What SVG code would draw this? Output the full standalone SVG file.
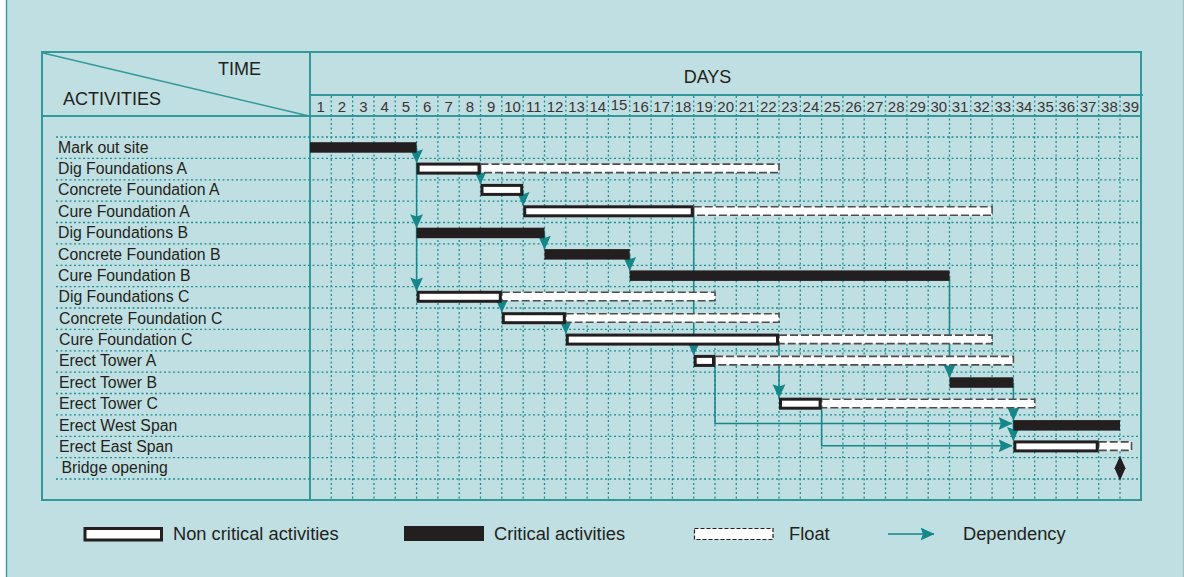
<svg xmlns="http://www.w3.org/2000/svg" width="1184" height="577" viewBox="0 0 1184 577">
  <defs>
    <style>
      .frame { fill: none; stroke: #34979a; stroke-width: 2; }
      .rule { stroke: #34979a; stroke-width: 2; fill: none; }
      .dot { stroke: #1e8e90; stroke-width: 1.3; stroke-dasharray: 2 2.5; fill: none; }
      .lbl { font-family: "Liberation Sans", Arial, sans-serif; font-size: 15.8px; fill: #231f20; }
      .head { font-family: "Liberation Sans", Arial, sans-serif; font-size: 18px; fill: #231f20; }
      .num { font-family: "Liberation Sans", Arial, sans-serif; font-size: 15px; fill: #3a3535; text-anchor: middle; }
      .leg { font-family: "Liberation Sans", Arial, sans-serif; font-size: 18.3px; fill: #231f20; }
      .crit { fill: #231f20; }
      .nonc { fill: #ffffff; stroke: #231f20; stroke-width: 3; }
      .float { fill: #ffffff; stroke: #4d4d4d; stroke-width: 1.6; stroke-dasharray: 8 3; }
      .dep { fill: none; stroke: #15878a; stroke-width: 1.5; marker-end: url(#arrow); }
    </style>
    <marker id="arrow" viewBox="0 0 12 12" refX="11.5" refY="6" markerWidth="14" markerHeight="14" markerUnits="userSpaceOnUse" orient="auto">
      <path d="M0,0.5 L12,6 L0,11.5 L2,6 z" fill="#15878a"/>
    </marker>
  </defs>

  <!-- page background -->
  <rect x="0" y="0" width="1184" height="577" fill="#ffffff"/>
  <rect x="6" y="0" width="1178" height="577" fill="#c0dfe2"/>
  <line x1="6.5" y1="0" x2="6.5" y2="577" stroke="#2f9a9c" stroke-width="1.4"/>
  <line x1="1183.3" y1="0" x2="1183.3" y2="577" stroke="#9dbfc2" stroke-width="1"/>

  <!-- table frame and header -->
  <g id="table">
    <rect class="frame" x="42" y="52" width="1099" height="448"/>
    <line class="rule" x1="42" y1="116" x2="1141" y2="116"/>
    <line class="rule" x1="310" y1="52" x2="310" y2="500"/>
    <line class="rule" x1="310" y1="95" x2="1143" y2="95"/>
    <line x1="43" y1="53" x2="309" y2="116" stroke="#34979a" stroke-width="1.5"/>
    <text class="head" x="218" y="75">TIME</text>
    <text class="head" x="63" y="105">ACTIVITIES</text>
    <text class="head" x="707.5" y="82.5" text-anchor="middle">DAYS</text>
  </g>

  <!-- dotted grid -->
  <g id="grid">
    <path class="dot" d="M56,137H1141M56,158.4H1141M56,179.8H1141M56,201.1H1141M56,222.5H1141M56,243.9H1141M56,265.3H1141M56,286.6H1141M56,308H1141M56,329.4H1141M56,350.8H1141M56,372.1H1141M56,393.5H1141M56,414.9H1141M56,436.3H1141M56,457.6H1141M56,479H1141"/>
    <path class="dot" d="M331.3,96V500M352.6,96V500M374,96V500M395.3,96V500M416.6,96V500M437.9,96V500M459.2,96V500M480.5,96V500M501.8,96V500M523.2,96V500M544.5,96V500M565.8,96V500M587.1,96V500M608.4,96V500M629.7,96V500M651.1,96V500M672.4,96V500M693.7,96V500M715,96V500M736.3,96V500M757.6,96V500M779,96V500M800.3,96V500M821.6,96V500M842.9,96V500M864.2,96V500M885.5,96V500M906.9,96V500M928.2,96V500M949.5,96V500M970.8,96V500M992.1,96V500M1013.4,96V500M1034.7,96V500M1056.1,96V500M1077.4,96V500M1098.7,96V500M1120,96V500"/>
  </g>

  <!-- day numbers -->
  <g id="days">
    <text class="num" x="320.7" y="111.5">1</text>
    <text class="num" x="342" y="111.5">2</text>
    <text class="num" x="363.3" y="111.5">3</text>
    <text class="num" x="384.6" y="111.5">4</text>
    <text class="num" x="405.9" y="111.5">5</text>
    <text class="num" x="427.2" y="111.5">6</text>
    <text class="num" x="448.6" y="111.5">7</text>
    <text class="num" x="469.9" y="111.5">8</text>
    <text class="num" x="491.2" y="111.5">9</text>
    <text class="num" x="512.5" y="111.5">10</text>
    <text class="num" x="533.8" y="111.5">11</text>
    <text class="num" x="555.1" y="111.5">12</text>
    <text class="num" x="576.5" y="111.5">13</text>
    <text class="num" x="597.8" y="111.5">14</text>
    <text class="num" x="619.1" y="110">15</text>
    <text class="num" x="640.4" y="111.5">16</text>
    <text class="num" x="661.7" y="111.5">17</text>
    <text class="num" x="683" y="111.5">18</text>
    <text class="num" x="704.4" y="111.5">19</text>
    <text class="num" x="725.7" y="111.5">20</text>
    <text class="num" x="747" y="111.5">21</text>
    <text class="num" x="768.3" y="111.5">22</text>
    <text class="num" x="789.6" y="111.5">23</text>
    <text class="num" x="810.9" y="111.5">24</text>
    <text class="num" x="832.2" y="111.5">25</text>
    <text class="num" x="853.6" y="111.5">26</text>
    <text class="num" x="874.9" y="111.5">27</text>
    <text class="num" x="896.2" y="111.5">28</text>
    <text class="num" x="917.5" y="111.5">29</text>
    <text class="num" x="938.8" y="111.5">30</text>
    <text class="num" x="960.1" y="111.5">31</text>
    <text class="num" x="981.5" y="111.5">32</text>
    <text class="num" x="1002.8" y="111.5">33</text>
    <text class="num" x="1024.1" y="111.5">34</text>
    <text class="num" x="1045.4" y="111.5">35</text>
    <text class="num" x="1066.7" y="111.5">36</text>
    <text class="num" x="1088" y="111.5">37</text>
    <text class="num" x="1109.4" y="111.5">38</text>
    <text class="num" x="1130.7" y="111.5">39</text>
  </g>

  <!-- dependency connectors (drawn beneath the bars) -->
  <g id="connectors">
    <path class="dep" d="M416.6,148V162.6"/>
    <path class="dep" d="M416.6,162.6V227.7"/>
    <path class="dep" d="M416.6,227.7V290.8"/>
    <path class="dep" d="M480.5,169V183.9"/>
    <path class="dep" d="M523.2,190.4V205.3"/>
    <path class="dep" d="M693.7,212V354.9"/>
    <path class="dep" d="M544.5,233.2V249.1"/>
    <path class="dep" d="M629.7,254.6V270.4"/>
    <path class="dep" d="M949.5,276V377.3"/>
    <path class="dep" d="M501.8,297.3V312.2"/>
    <path class="dep" d="M565.8,318.7V333.6"/>
    <path class="dep" d="M779,340V397.7"/>
    <path class="dep" d="M715,361.4V423.5H1012"/>
    <path class="dep" d="M821.6,404.2V445.7H1012"/>
    <path class="dep" d="M1013.4,382.8V420.1"/>
    <path class="dep" d="M1013.4,420.1V440.4"/>
  </g>

  <!-- activities -->
  <g id="mark-out-site">
    <text class="lbl" x="58" y="152.7">Mark out site</text>
    <rect class="crit" x="310" y="142.2" width="106.6" height="10.5"/>
  </g>
  <g id="dig-foundations-a">
    <text class="lbl" x="58" y="174.1">Dig Foundations A</text>
    <rect class="float" x="480.5" y="164.1" width="298.5" height="8.5"/>
    <rect class="nonc" x="418.1" y="164.1" width="60.9" height="9"/>
  </g>
  <g id="concrete-foundation-a">
    <text class="lbl" x="58" y="195.4">Concrete Foundation A</text>
    <rect class="nonc" x="482" y="185.4" width="39.7" height="9"/>
  </g>
  <g id="cure-foundation-a">
    <text class="lbl" x="58" y="216.8">Cure Foundation A</text>
    <rect class="float" x="693.7" y="206.8" width="298.4" height="8.5"/>
    <rect class="nonc" x="524.7" y="206.8" width="167.5" height="9"/>
  </g>
  <g id="dig-foundations-b">
    <text class="lbl" x="58" y="238.2">Dig Foundations B</text>
    <rect class="crit" x="416.6" y="227.7" width="127.9" height="10.5"/>
  </g>
  <g id="concrete-foundation-b">
    <text class="lbl" x="58" y="259.6">Concrete Foundation B</text>
    <rect class="crit" x="544.5" y="249.1" width="85.2" height="10.5"/>
  </g>
  <g id="cure-foundation-b">
    <text class="lbl" x="58" y="280.9">Cure Foundation B</text>
    <rect class="crit" x="629.7" y="270.4" width="319.8" height="10.5"/>
  </g>
  <g id="dig-foundations-c">
    <text class="lbl" x="58.5" y="302.3">Dig Foundations C</text>
    <rect class="float" x="501.8" y="292.3" width="213.2" height="8.5"/>
    <rect class="nonc" x="418.1" y="292.3" width="82.2" height="9"/>
  </g>
  <g id="concrete-foundation-c">
    <text class="lbl" x="59" y="323.7">Concrete Foundation C</text>
    <rect class="float" x="565.8" y="313.7" width="213.2" height="8.5"/>
    <rect class="nonc" x="503.3" y="313.7" width="61" height="9"/>
  </g>
  <g id="cure-foundation-c">
    <text class="lbl" x="59" y="345.1">Cure Foundation C</text>
    <rect class="float" x="779" y="335.1" width="213.1" height="8.5"/>
    <rect class="nonc" x="567.3" y="335.1" width="210.2" height="9"/>
  </g>
  <g id="erect-tower-a">
    <text class="lbl" x="59" y="366.4">Erect Tower A</text>
    <rect class="float" x="715" y="356.4" width="298.4" height="8.5"/>
    <rect class="nonc" x="695.2" y="356.4" width="18.3" height="9"/>
  </g>
  <g id="erect-tower-b">
    <text class="lbl" x="59" y="387.8">Erect Tower B</text>
    <rect class="crit" x="949.5" y="377.3" width="63.9" height="10.5"/>
  </g>
  <g id="erect-tower-c">
    <text class="lbl" x="59" y="409.2">Erect Tower C</text>
    <rect class="float" x="821.6" y="399.2" width="213.1" height="8.5"/>
    <rect class="nonc" x="780.5" y="399.2" width="39.6" height="9"/>
  </g>
  <g id="erect-west-span">
    <text class="lbl" x="59" y="430.6">Erect West Span</text>
    <rect class="crit" x="1013.4" y="420.1" width="106.6" height="10.5"/>
  </g>
  <g id="erect-east-span">
    <text class="lbl" x="59" y="451.9">Erect East Span</text>
    <rect class="float" x="1098.7" y="441.9" width="32.8" height="8.5"/>
    <rect class="nonc" x="1014.9" y="441.9" width="82.3" height="9"/>
  </g>
  <g id="bridge-opening">
    <text class="lbl" x="61.5" y="473.3">Bridge opening</text>
    <polygon points="1120,456 1125.5,468.3 1120,480.5 1114.5,468.3" fill="#231f20"/>
  </g>

  <!-- key -->
  <g id="legend">
    <rect class="nonc" x="85" y="528.5" width="76.5" height="11.5"/>
    <text class="leg" x="173" y="540">Non critical activities</text>
    <rect class="crit" x="404" y="526" width="80" height="15"/>
    <text class="leg" x="494" y="540">Critical activities</text>
    <rect x="694.5" y="528.5" width="78.5" height="11" fill="#ffffff" stroke="#231f20" stroke-width="1.2" stroke-dasharray="4 2"/>
    <text class="leg" x="789" y="540">Float</text>
    <path class="dep" d="M888,534H934"/>
    <text class="leg" x="963" y="540">Dependency</text>
  </g>
</svg>
